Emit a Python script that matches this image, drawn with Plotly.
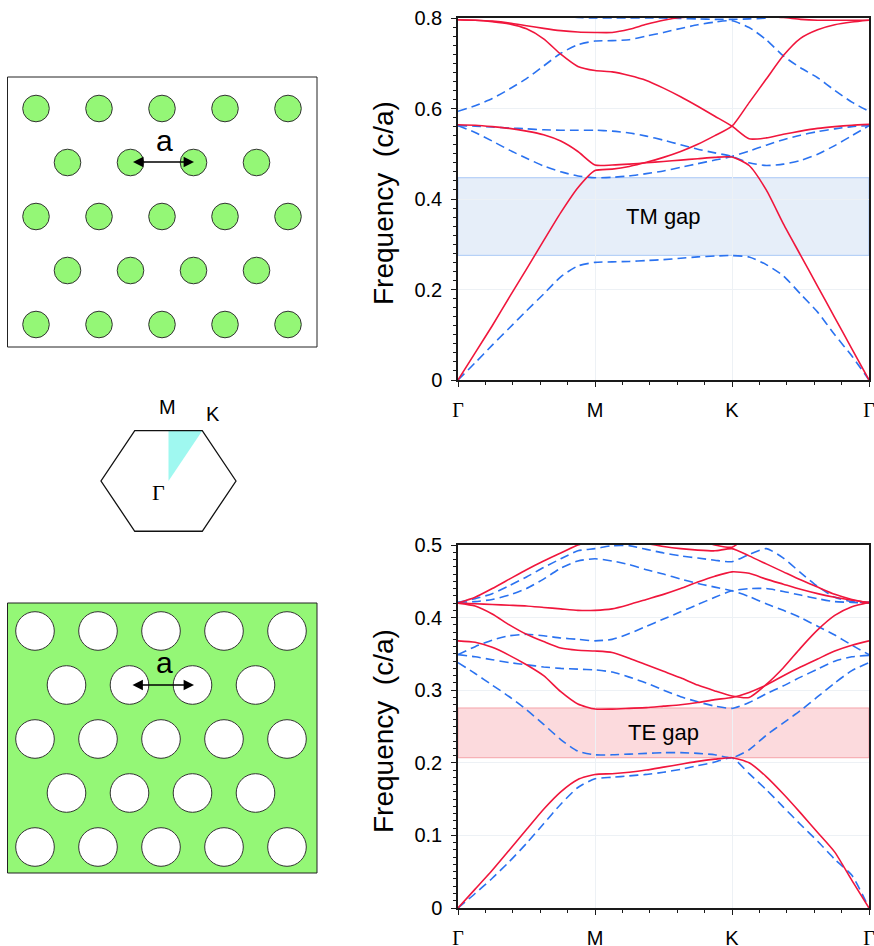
import plotly.graph_objects as go
import math

W, H = 874, 946
OFF = 0

# ---------------- data ----------------
K_PATH = [0, 0.125, 0.25, 0.375, 0.5, 0.625, 0.75, 0.875, 1.0,
          1.125, 1.25, 1.375, 1.5, 1.625, 1.75, 1.875, 2.0,
          2.125, 2.25, 2.375, 2.5, 2.625, 2.75, 2.875, 3.0]
K_TICKS = [0, 1, 2, 3]
K_LABELS = ["Γ", "M", "K", "Γ"]

# rods (TM gap) -- red = TE, blue = TM
rods_te_1 = [0, 0.06, 0.12, 0.183, 0.245, 0.308, 0.37, 0.425, 0.463, 0.466, 0.472, 0.481, 0.492, 0.505, 0.521, 0.54, 0.561, 0.613, 0.665, 0.717, 0.755, 0.774, 0.785, 0.791, 0.795]
rods_te_2 = [0.564, 0.563, 0.56, 0.556, 0.55, 0.542, 0.528, 0.505, 0.475, 0.475, 0.477, 0.48, 0.483, 0.486, 0.489, 0.492, 0.493, 0.474, 0.42, 0.345, 0.276, 0.207, 0.138, 0.069, 0]
rods_te_3 = [0.796, 0.795, 0.792, 0.787, 0.776, 0.754, 0.72, 0.693, 0.684, 0.681, 0.673, 0.662, 0.645, 0.626, 0.605, 0.583, 0.561, 0.533, 0.535, 0.543, 0.55, 0.556, 0.56, 0.563, 0.565]
rods_te_4 = [0.796, 0.795, 0.793, 0.789, 0.783, 0.777, 0.772, 0.769, 0.768, 0.768, 0.775, 0.786, 0.795, 0.801, 0.803, 0.804, 0.804, 0.804, 0.803, 0.801, 0.797, 0.795, 0.795, 0.795, 0.795]
rods_tm_1 = [0, 0.038, 0.077, 0.115, 0.153, 0.19, 0.228, 0.252, 0.26, 0.261, 0.262, 0.264, 0.266, 0.269, 0.272, 0.274, 0.275, 0.272, 0.255, 0.23, 0.19, 0.15, 0.1, 0.053, 0]
rods_tm_2 = [0.562, 0.547, 0.528, 0.508, 0.49, 0.473, 0.46, 0.451, 0.447, 0.448, 0.451, 0.456, 0.462, 0.47, 0.478, 0.486, 0.494, 0.506, 0.519, 0.531, 0.541, 0.549, 0.555, 0.56, 0.562]
rods_tm_3 = [0.562, 0.561, 0.559, 0.557, 0.555, 0.553, 0.552, 0.552, 0.552, 0.55, 0.546, 0.539, 0.53, 0.52, 0.51, 0.502, 0.494, 0.48, 0.474, 0.477, 0.485, 0.499, 0.518, 0.54, 0.562]
rods_tm_4 = [0.594, 0.606, 0.622, 0.643, 0.666, 0.694, 0.722, 0.741, 0.749, 0.75, 0.752, 0.76, 0.768, 0.777, 0.785, 0.791, 0.794, 0.779, 0.752, 0.716, 0.69, 0.668, 0.64, 0.614, 0.594]
rods_tm_5 = [0.9, 0.89, 0.87, 0.85, 0.83, 0.815, 0.805, 0.801, 0.8, 0.8, 0.8, 0.8, 0.8, 0.799, 0.798, 0.797, 0.797, 0.798, 0.8, 0.81, 0.83, 0.85, 0.87, 0.885, 0.9]
rods_gap = [0.2755, 0.447]

# holes (TE gap)
holes_te_1 = [0, 0.026, 0.052, 0.08, 0.108, 0.136, 0.16, 0.177, 0.184, 0.185, 0.187, 0.19, 0.194, 0.198, 0.202, 0.205, 0.207, 0.2, 0.181, 0.157, 0.131, 0.104, 0.077, 0.038, 0]
holes_te_2 = [0.368, 0.366, 0.359, 0.348, 0.335, 0.32, 0.298, 0.281, 0.274, 0.274, 0.275, 0.276, 0.278, 0.28, 0.283, 0.287, 0.29, 0.297, 0.307, 0.32, 0.332, 0.343, 0.354, 0.362, 0.368]
holes_te_3 = [0.42, 0.416, 0.405, 0.39, 0.377, 0.367, 0.358, 0.355, 0.354, 0.352, 0.344, 0.335, 0.326, 0.317, 0.307, 0.299, 0.292, 0.29, 0.308, 0.331, 0.358, 0.383, 0.403, 0.415, 0.421]
holes_te_4 = [0.42, 0.419, 0.418, 0.417, 0.416, 0.414, 0.412, 0.41, 0.41, 0.412, 0.418, 0.425, 0.432, 0.44, 0.449, 0.457, 0.463, 0.461, 0.453, 0.446, 0.439, 0.433, 0.428, 0.424, 0.421]
holes_te_5 = [0.42, 0.428, 0.44, 0.453, 0.466, 0.478, 0.489, 0.5, 0.505, 0.507, 0.506, 0.502, 0.498, 0.495, 0.493, 0.492, 0.495, 0.485, 0.474, 0.463, 0.452, 0.442, 0.432, 0.425, 0.42]
holes_te_6 = [None, None, None, None, None, None, None, None, None, None, None, None, None, None, 0.508, 0.5, 0.497, 0.515, None, None, None, None, None, None, None]
holes_tm_1 = [0, 0.02, 0.041, 0.064, 0.089, 0.116, 0.143, 0.166, 0.178, 0.18, 0.182, 0.184, 0.187, 0.191, 0.196, 0.201, 0.207, 0.185, 0.163, 0.139, 0.115, 0.092, 0.067, 0.045, 0]
holes_tm_2 = [0.338, 0.323, 0.307, 0.291, 0.273, 0.253, 0.232, 0.216, 0.211, 0.211, 0.212, 0.213, 0.214, 0.214, 0.213, 0.211, 0.207, 0.218, 0.238, 0.255, 0.272, 0.291, 0.31, 0.327, 0.338]
holes_tm_3 = [0.349, 0.346, 0.342, 0.338, 0.335, 0.332, 0.33, 0.329, 0.328, 0.325, 0.318, 0.31, 0.3, 0.291, 0.284, 0.278, 0.275, 0.283, 0.295, 0.306, 0.318, 0.329, 0.34, 0.346, 0.348]
holes_tm_4 = [0.349, 0.36, 0.369, 0.375, 0.377, 0.375, 0.372, 0.37, 0.368, 0.37, 0.378, 0.388, 0.398, 0.408, 0.418, 0.428, 0.437, 0.44, 0.44, 0.436, 0.431, 0.426, 0.422, 0.421, 0.42]
holes_tm_5 = [0.421, 0.422, 0.425, 0.431, 0.44, 0.453, 0.468, 0.478, 0.481, 0.478, 0.473, 0.466, 0.46, 0.453, 0.447, 0.442, 0.437, 0.429, 0.419, 0.41, 0.4, 0.388, 0.376, 0.362, 0.349]
holes_tm_6 = [0.421, 0.426, 0.433, 0.444, 0.456, 0.469, 0.481, 0.492, 0.495, 0.499, 0.499, 0.494, 0.489, 0.485, 0.482, 0.479, 0.477, 0.487, 0.495, 0.482, 0.462, 0.443, 0.428, 0.422, 0.421]
holes_gap = [0.207, 0.2755]

# ---------------- styling ----------------
RED = "#f0163c"
BLUE = "#2a72f0"
GREEN = "#94f776"
CYAN = "#9ff8f0"
SANS = "Liberation Sans, Arial, sans-serif"
SERIF = "Liberation Serif, Times New Roman, serif"
AXC = "#1a1a1a"


def px(x):
    return (x - OFF) / W


def py(y):
    return 1 - (y - OFF) / H


fig = go.Figure()

rods_te = [rods_te_1, rods_te_2, rods_te_3, rods_te_4]
rods_tm = [rods_tm_1, rods_tm_2, rods_tm_3, rods_tm_4, rods_tm_5]
holes_te = [holes_te_1, holes_te_2, holes_te_3, holes_te_4, holes_te_5, holes_te_6]
holes_tm = [holes_tm_1, holes_tm_2, holes_tm_3, holes_tm_4, holes_tm_5, holes_tm_6]

for band in rods_tm:
    fig.add_trace(go.Scatter(x=K_PATH, y=band, mode="lines", xaxis="x", yaxis="y",
                             line=dict(color=BLUE, width=1.6, dash="9px,5px", shape="spline", smoothing=0.6),
                             hoverinfo="skip"))
for band in rods_te:
    fig.add_trace(go.Scatter(x=K_PATH, y=band, mode="lines", xaxis="x", yaxis="y",
                             line=dict(color=RED, width=1.6, shape="spline", smoothing=0.6),
                             hoverinfo="skip"))
for band in holes_tm:
    fig.add_trace(go.Scatter(x=K_PATH, y=band, mode="lines", xaxis="x2", yaxis="y2",
                             line=dict(color=BLUE, width=1.6, dash="9px,5px", shape="spline", smoothing=0.6),
                             hoverinfo="skip", connectgaps=False))
for band in holes_te:
    fig.add_trace(go.Scatter(x=K_PATH, y=band, mode="lines", xaxis="x2", yaxis="y2",
                             line=dict(color=RED, width=1.6, shape="spline", smoothing=0.6),
                             hoverinfo="skip", connectgaps=False))

shapes = []
# gap bands
shapes.append(dict(type="rect", xref="x", yref="y", x0=K_TICKS[0], x1=K_TICKS[-1],
                   y0=rods_gap[0], y1=rods_gap[1], fillcolor="#e6eef9",
                   line=dict(color="#a9c8f6", width=1), layer="below"))
shapes.append(dict(type="rect", xref="x2", yref="y2", x0=K_TICKS[0], x1=K_TICKS[-1],
                   y0=holes_gap[0], y1=holes_gap[1], fillcolor="#fcdadd",
                   line=dict(color="#f5a3aa", width=1), layer="below"))

# ---------------- left-hand schematics (window-pixel geometry) ----------------
LAT_A = 63.0
LAT_ROW = 54.0
ROWS = 5


def lattice(x0, y0):
    pts = []
    for r in range(ROWS):
        n = 5 if r % 2 == 0 else 4
        off = 0 if r % 2 == 0 else LAT_A / 2
        for c in range(n):
            pts.append((x0 + off + c * LAT_A, y0 + r * LAT_ROW))
    return pts


def circle(cx, cy, r, fill, lc):
    return dict(type="circle", xref="paper", yref="paper",
                x0=px(cx - r), x1=px(cx + r), y0=py(cy + r), y1=py(cy - r),
                fillcolor=fill, line=dict(color=lc, width=1))


BOX_L = 7.5
# rods box
shapes.append(dict(type="rect", xref="paper", yref="paper", x0=px(BOX_L), x1=px(317),
                   y0=py(347), y1=py(77), fillcolor="white", line=dict(color="#222", width=1)))
for (cx, cy) in lattice(36, 108.5):
    shapes.append(circle(cx, cy, 13.3, GREEN, "#333"))

# holes box
shapes.append(dict(type="rect", xref="paper", yref="paper", x0=px(BOX_L), x1=px(317),
                   y0=py(873), y1=py(603), fillcolor=GREEN, line=dict(color="#222", width=1)))
for (cx, cy) in lattice(35, 631):
    shapes.append(circle(cx, cy, 19.3, "white", "#333"))

# Brillouin zone hexagon
HX, HY, HR = 168.5, 481, 67.5
verts = []
for i in range(6):
    ang = math.radians(60 * i)
    verts.append((HX + HR * math.cos(ang), HY - HR * math.sin(ang) * 0.86))
path = "M " + " L ".join(f"{px(x):.5f},{py(y):.5f}" for x, y in verts) + " Z"
m_pt = (HX, verts[1][1])
k_pt = verts[1]
tri = f"M {px(HX):.5f},{py(HY):.5f} L {px(m_pt[0]):.5f},{py(m_pt[1]):.5f} L {px(k_pt[0]):.5f},{py(k_pt[1]):.5f} Z"
shapes.append(dict(type="path", xref="paper", yref="paper", path=tri, fillcolor=CYAN,
                   line=dict(width=0)))
shapes.append(dict(type="path", xref="paper", yref="paper", path=path,
                   line=dict(color="#111", width=1.3)))

annotations = []
# lattice-constant arrows
for (ax0, ax1, ay, ty) in [(131.5, 194, 162, 140), (131, 194, 685, 662)]:
    annotations.append(dict(xref="paper", yref="paper", x=px(ax1), y=py(ay),
                            ax=-(ax1 - ax0), ay=0, axref="pixel", ayref="pixel",
                            showarrow=True, arrowhead=2, arrowside="end+start",
                            arrowsize=1.3, arrowwidth=1.6, arrowcolor="#000", text=""))
    annotations.append(dict(xref="paper", yref="paper", x=px(164), y=py(ty), text="a",
                            showarrow=False, font=dict(family=SANS, size=30, color="#000"),
                            xanchor="center", yanchor="middle"))

annotations.append(dict(xref="paper", yref="paper", x=px(167), y=py(407), text="M",
                        showarrow=False, font=dict(family=SANS, size=20, color="#000"),
                        xanchor="center", yanchor="middle"))
annotations.append(dict(xref="paper", yref="paper", x=px(213), y=py(414), text="K",
                        showarrow=False, font=dict(family=SANS, size=20, color="#000"),
                        xanchor="center", yanchor="middle"))
annotations.append(dict(xref="paper", yref="paper", x=px(158), y=py(492), text="Γ",
                        showarrow=False, font=dict(family=SERIF, size=22, color="#000"),
                        xanchor="center", yanchor="middle"))

# gap labels
annotations.append(dict(xref="x", yref="y", x=1.5, y=sum(rods_gap) / 2, text="TM gap",
                        showarrow=False, font=dict(family=SANS, size=22, color="#000")))
annotations.append(dict(xref="x2", yref="y2", x=1.5, y=sum(holes_gap) / 2, text="TE gap",
                        showarrow=False, font=dict(family=SANS, size=22, color="#000")))

# y-axis titles
for yc in (203, 731):
    annotations.append(dict(xref="paper", yref="paper", x=px(383), y=py(yc),
                            text="Frequency\u00a0\u00a0(c/a)", textangle=-90, showarrow=False,
                            font=dict(family=SANS, size=28, color="#000"),
                            xanchor="center", yanchor="middle"))

tick_text = [f'<span style="font-family:Liberation Serif">{t}</span>' if t == "Γ" else t
             for t in K_LABELS]

xcommon = dict(range=[0, 3], tickmode="array", tickvals=K_TICKS, ticktext=tick_text,
               ticks="outside", ticklen=5, tickwidth=1.3, tickcolor=AXC,
               showline=True, linecolor=AXC, linewidth=1.5, mirror=True,
               showgrid=True, gridcolor="#edf1f5", gridwidth=1, zeroline=False,
               tickfont=dict(family=SANS, size=20, color="#000"), ticklabelstandoff=6,
               ticklabeloverflow="allow",
               minor=dict(tickmode="linear", tick0=0, dtick=0.2, ticks="outside",
                          ticklen=3, tickcolor=AXC, showgrid=False),
               automargin=False, fixedrange=True)
ycommon = dict(ticks="outside", ticklen=5, tickwidth=1.3, tickcolor=AXC,
               showline=True, linecolor=AXC, linewidth=1.5, mirror=True,
               showgrid=True, gridcolor="#edf1f5", gridwidth=1, zeroline=False,
               tickfont=dict(family=SANS, size=20, color="#000"), ticklabelstandoff=5,
               ticklabeloverflow="allow",
               automargin=False, fixedrange=True)

XDOM = [px(458), px(869)]
fig.update_layout(
    width=W, height=H, autosize=False,
    margin=dict(l=0, r=0, t=0, b=0, pad=0, autoexpand=False),
    paper_bgcolor="white", plot_bgcolor="white",
    showlegend=False,
    xaxis=dict(domain=XDOM, anchor="y", **xcommon),
    yaxis=dict(domain=[py(380), py(18)], anchor="x", range=[0, 0.8], tickmode="linear",
               tick0=0, dtick=0.2,
               minor=dict(tickmode="linear", tick0=0, dtick=0.02, ticks="outside", ticklen=3,
                          tickcolor=AXC, showgrid=False),
               **ycommon),
    xaxis2=dict(domain=XDOM, anchor="y2", **xcommon),
    yaxis2=dict(domain=[py(908), py(545)], anchor="x2", range=[0, 0.5], tickmode="linear",
                tick0=0, dtick=0.1,
                minor=dict(tickmode="linear", tick0=0, dtick=0.01, ticks="outside", ticklen=3,
                           tickcolor=AXC, showgrid=False),
                **ycommon),
    shapes=shapes,
    annotations=annotations,
)

fig.write_html("out.html",
               config={"displayModeBar": False},
               post_script="document.body.style.margin='0';document.body.style.overflow='hidden';")
